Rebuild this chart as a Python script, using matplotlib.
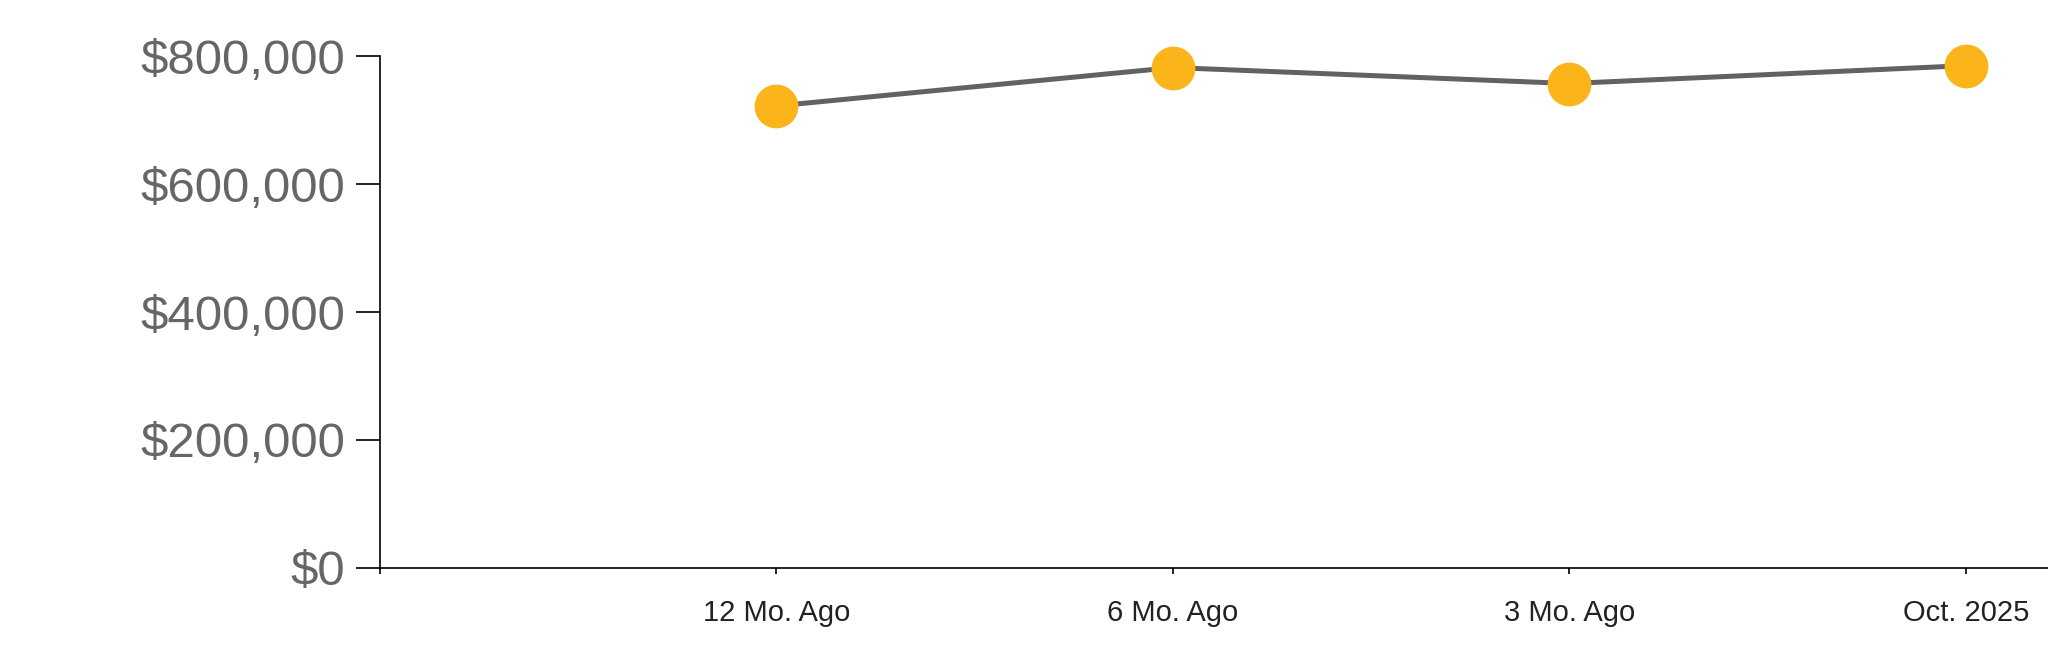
import matplotlib.pyplot as plt
from matplotlib.ticker import FuncFormatter

# values
periods = ["12 Mo. Ago", "6 Mo. Ago", "3 Mo. Ago", "Oct. 2025"]
median_price = [722000, 782000, 757000, 785000]
y_ticks = [0, 200000, 400000, 600000, 800000]

plt.rcParams["font.family"] = ["Liberation Sans", "DejaVu Sans"]

fig = plt.figure(figsize = (20.48, 6.63), dpi = 100)
ax = fig.add_axes([0.1855, 0.1433, 0.8145, 0.7722])

x = list(range(1, len(periods) + 1))
ax.plot(x, median_price, color = "#626262", linewidth = 3.6, zorder = 2)
ax.plot(x, median_price, linestyle = "none", marker = "o", markersize = 30.5,
        markerfacecolor = "#fbb41a", markeredgecolor = "#fbb41a", zorder = 3, clip_on = False)

ax.set_xlim(0, 4.207)
ax.set_ylim(0, 800000)

ax.set_xticks([0] + x)
ax.set_xticklabels([""] + periods)
ax.set_yticks(y_ticks)
ax.yaxis.set_major_formatter(FuncFormatter(lambda v, p: "${:,.0f}".format(v)))

ax.tick_params(axis = "y", labelsize = 35.5, labelcolor = "#666666", length = 17, width = 1.2, pad = 8)
ax.tick_params(axis = "x", labelsize = 21, labelcolor = "#222222", length = 4.5, width = 1.2, pad = 18)

for side in ["top", "right"]:
    ax.spines[side].set_visible(False)
ax.spines["left"].set_linewidth(1.2)
ax.spines["bottom"].set_linewidth(1.2)

fig.savefig("out.png", dpi = 100)
